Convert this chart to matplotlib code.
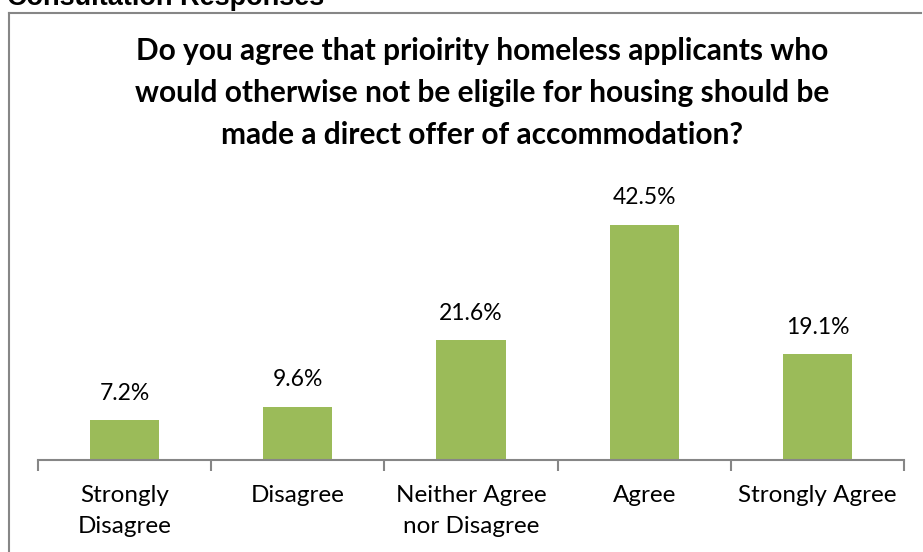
import matplotlib
matplotlib.use("Agg")
import matplotlib.pyplot as plt
from matplotlib.lines import Line2D

categories = ["Strongly\nDisagree", "Disagree", "Neither Agree\nnor Disagree", "Agree", "Strongly Agree"]
values = [7.2, 9.6, 21.6, 42.5, 19.1]
value_labels = ["7.2%", "9.6%", "21.6%", "42.5%", "19.1%"]

W, H = 923, 552
bar_color = "#9BBB59"
axis_color = "#868686"

fig = plt.figure(figsize=(W / 100, H / 100), dpi=100)
fig.patch.set_facecolor("white")

# chart frame (left and top edges, the rest runs off the page)
fig.add_artist(Line2D([9 / W, 9 / W], [0, 1 - 13 / H], transform=fig.transFigure,
                      color=axis_color, lw=1.5))
fig.add_artist(Line2D([9 / W, 921 / W], [1 - 13 / H, 1 - 13 / H], transform=fig.transFigure,
                      color=axis_color, lw=1.5))

# section heading above the frame
fig.text(7 / W, 1 - 5 / H, "Consultation Responses", family="Liberation Sans",
         fontweight="bold", fontsize=19.5, ha="left", va="baseline")

# plot area in pixel terms
x0, x1 = 38, 904
ybase, ytop = 460, 211
ax = fig.add_axes([x0 / W, 1 - ybase / H, (x1 - x0) / W, (ybase - ytop) / H])
ax.set_xlim(-0.5, len(values) - 0.5)
ax.set_ylim(0, 45)

pos = range(len(values))
ax.bar(pos, values, width=0.4, color=bar_color, zorder=2)
for p, v, lab in zip(pos, values, value_labels):
    ax.text(p, v + 4.9, lab, ha="center", va="center", fontsize=16.5, family="Lato")

for s in ["left", "right", "top"]:
    ax.spines[s].set_visible(False)
ax.spines["bottom"].set_color(axis_color)
ax.spines["bottom"].set_linewidth(1.5)
ax.set_yticks([])
ax.set_xticks([i - 0.5 for i in range(len(values) + 1)])
ax.set_xticklabels([])
ax.tick_params(axis="x", length=8, width=1.5, color=axis_color)
for p, c in zip(pos, categories):
    ax.text(p, -4.5, c, ha="center", va="top", fontsize=17.5, family="Lato",
            linespacing=1.6)

fig.text(482 / W, 1 - 93 / H,
         "Do you agree that prioirity homeless applicants who\n"
         "would otherwise not be eligile for housing should be\n"
         "made a direct offer of accommodation?",
         ha="center", va="center", fontsize=21.5, fontweight="bold", family="Lato",
         linespacing=1.6)

fig.savefig("out.png", dpi=100)
